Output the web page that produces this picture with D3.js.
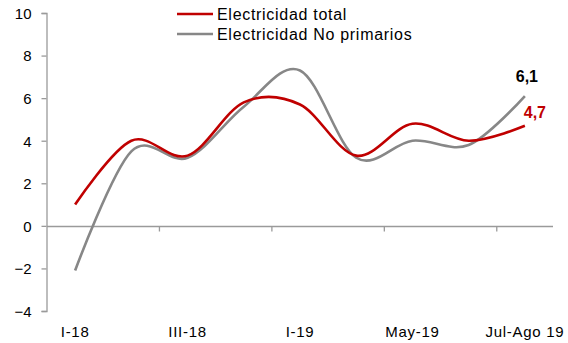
<!DOCTYPE html>
<html>
<head>
<meta charset="utf-8">
<script src="https://cdn.jsdelivr.net/npm/d3@7"></script>
<style>
  html, body { margin: 0; padding: 0; background: #fff; }
  svg { display: block; font-family: "Liberation Sans", Arial, sans-serif; }
</style>
</head>
<body>
<svg id="chart" width="568" height="343"></svg>
<script>
// Period categories (only every second one is labelled on the axis)
const categories = ["I-18", "II-18", "III-18", "IV-18", "I-19", "Abr-19", "May-19", "Jun-19", "Jul-Ago 19"];
const shownLabels = ["I-18", "III-18", "I-19", "May-19", "Jul-Ago 19"];

// Series values (%)
const totalValues = [1.0, 4.0, 3.3, 5.8, 5.7, 3.3, 4.8, 4.0, 4.7];
const noPrimValues = [-2.1, 3.5, 3.2, 5.6, 7.3, 3.2, 4.0, 3.8, 6.1];

const seriesNames = ["Electricidad total", "Electricidad No primarios"];
const yTicks = [-4, -2, 0, 2, 4, 6, 8, 10];

const RED = "#c00000";
const GRAY = "#878787";
const AXIS = "#9a9a9a";

const svg = d3.select("#chart");

const x = d3.scaleBand().domain(categories).range([47, 553]).padding(0);
const cx = d => x(d) + x.bandwidth() / 2;
const y = d3.scaleLinear().domain([-4, 10]).range([311, 13]);

// Y axis
const yAxis = svg.append("g").attr("transform", "translate(46.5,0)")
  .call(d3.axisLeft(y).tickValues(yTicks).tickSize(5).tickPadding(10)
    .tickFormat(d => d3.format("d")(d)));
yAxis.select(".domain").attr("stroke", AXIS).attr("stroke-width", 1.3);
yAxis.selectAll(".tick line").attr("stroke", AXIS).attr("stroke-width", 1.3);
yAxis.selectAll(".tick text").attr("font-size", 15).attr("fill", "#000")
  .attr("font-family", "Liberation Sans, Arial, sans-serif").attr("dy", "0.36em");

// Horizontal axis along zero, ticks at every second category boundary
const zeroY = Math.round(y(0)) + 0.5;
svg.append("line").attr("x1", 47).attr("x2", 553).attr("y1", zeroY).attr("y2", zeroY)
  .attr("stroke", AXIS).attr("stroke-width", 1.3);
const boundaryIdx = [1, 3, 5, 7];
svg.append("g").selectAll("line").data(boundaryIdx).join("line")
  .attr("x1", i => x(categories[i]) + x.bandwidth())
  .attr("x2", i => x(categories[i]) + x.bandwidth())
  .attr("y1", zeroY).attr("y2", zeroY + 5)
  .attr("stroke", AXIS).attr("stroke-width", 1.3);

// Category labels at the bottom
svg.append("g").selectAll("text").data(shownLabels).join("text")
  .attr("x", d => cx(d)).attr("y", 337)
  .attr("text-anchor", "middle").attr("font-size", 15)
  .attr("letter-spacing", "0.7px").attr("fill", "#000")
  .text(d => d);

// Smoothed lines
const line = d3.line()
  .x((d, i) => cx(categories[i]))
  .y(d => y(d))
  .curve(d3.curveCardinal.tension(0));

svg.append("path").datum(noPrimValues).attr("d", line)
  .attr("fill", "none").attr("stroke", GRAY).attr("stroke-width", 2.6);
svg.append("path").datum(totalValues).attr("d", line)
  .attr("fill", "none").attr("stroke", RED).attr("stroke-width", 2.6);

// End-value labels
const last = categories.length - 1;
svg.append("text").attr("x", cx(categories[last]) + 2).attr("y", y(noPrimValues[last]) - 14)
  .attr("text-anchor", "middle").attr("font-size", 16).attr("font-weight", "bold")
  .attr("fill", "#000").text(d3.format(".1f")(noPrimValues[last]).replace(".", ","));
svg.append("text").attr("x", cx(categories[last]) + 10).attr("y", y(totalValues[last]) - 8)
  .attr("text-anchor", "middle").attr("font-size", 16).attr("font-weight", "bold")
  .attr("fill", RED).text(d3.format(".1f")(totalValues[last]).replace(".", ","));

// Legend
const legend = svg.append("g");
const legendItems = [{ name: seriesNames[0], color: RED, y: 14 }, { name: seriesNames[1], color: GRAY, y: 34 }];
legend.selectAll("line").data(legendItems).join("line")
  .attr("x1", 177).attr("x2", 213).attr("y1", d => d.y).attr("y2", d => d.y)
  .attr("stroke", d => d.color).attr("stroke-width", 2.6);
legend.selectAll("text").data(legendItems).join("text")
  .attr("x", 217).attr("y", d => d.y + 5.5)
  .attr("font-size", 16).attr("letter-spacing", "0.7px").attr("fill", "#000")
  .text(d => d.name);
</script>
</body>
</html>
